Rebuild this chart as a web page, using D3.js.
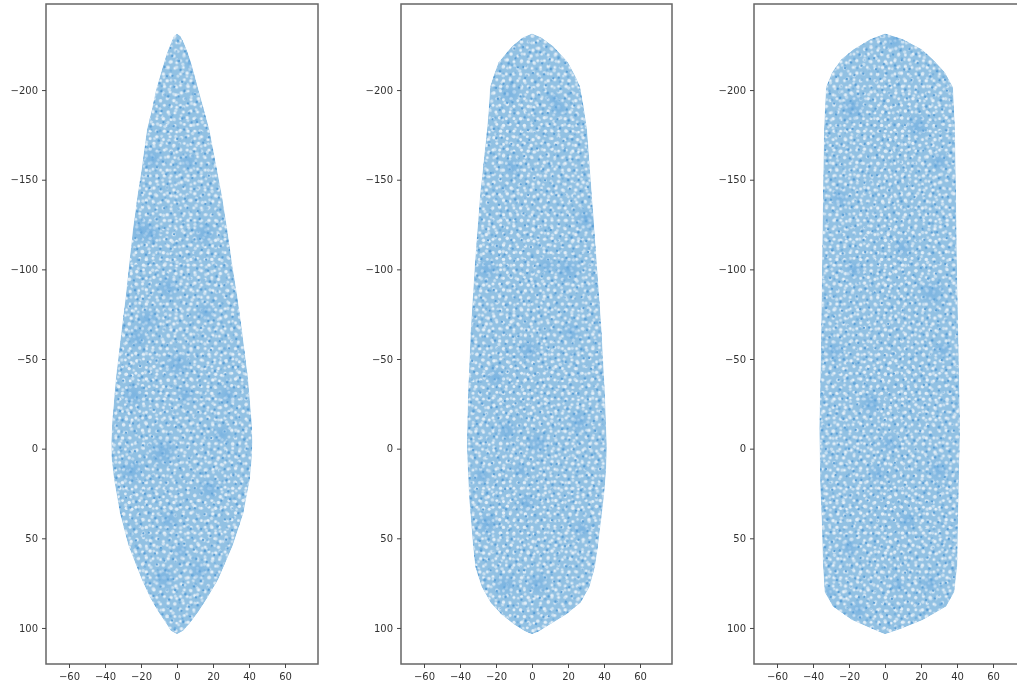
<!DOCTYPE html>
<html>
<head>
<meta charset="utf-8">
<script src="https://cdn.jsdelivr.net/npm/d3@7"></script>
<style>
  html, body { margin: 0; padding: 0; background: #fff; overflow: hidden; }
  text { font-family: "DejaVu Sans", sans-serif; }
</style>
</head>
<body>
<div id="chart"></div>
<script>
const xTicks = [-60, -40, -20, 0, 20, 40, 60];
const yTicks = [-200, -150, -100, -50, 0, 50, 100];

// outlines: [x, y] in axis units, clockwise from the top
const outlineLeft = [
  [0, -231.5], [2, -230], [4, -226], [6, -221], [9, -211], [12, -200], [15, -189], [18, -178],
  [22, -157], [25, -141], [28, -122], [30.5, -104], [33.5, -85], [36, -67], [39.5, -39],
  [41.5, -15], [41.9, -4], [41.5, 6], [40.5, 17], [36.9, 36], [31, 54], [22.9, 73], [17, 83],
  [11.9, 91], [7, 97.5], [3.5, 101.5], [0, 103.5], [-3.5, 101.5], [-6, 97.5], [-10.4, 91],
  [-15, 83], [-19.6, 73], [-27, 54], [-31.7, 36], [-35, 17], [-36.3, 6], [-36.5, -4], [-36, -15],
  [-34, -39], [-30.7, -67], [-28.5, -85], [-26.5, -104], [-24.5, -122], [-22, -141],
  [-19.5, -157], [-16.7, -178], [-14, -189], [-11.7, -200], [-8.5, -211], [-5.5, -221],
  [-3.5, -226], [-1.8, -230]
];
const outlineMiddle = [
  [0, -231.5], [5, -229.5], [11.7, -224.6], [20, -215.5], [24, -208], [26.7, -202], [28.8, -190],
  [30.6, -178], [33.3, -141], [36, -104], [38.6, -67], [40.6, -29], [41.6, -1], [41.2, 12],
  [40, 26.5], [36.7, 54], [35, 66], [32, 77], [27, 86], [19, 92.5], [10, 98], [4, 101.8],
  [0, 103.5], [-4, 101.8], [-10, 98], [-17, 92.5], [-23, 86], [-28, 77], [-31.5, 66], [-32.8, 54],
  [-35, 26.5], [-36.2, -1], [-35.6, -29], [-34, -67], [-31.7, -104], [-28.9, -141], [-25, -178],
  [-24, -190], [-23.3, -202], [-21, -209], [-18.6, -215.5], [-11, -224.6], [-5, -229.5]
];
const outlineRight = [
  [0, -231.5], [10, -228.4], [20.5, -222.8], [26.7, -217], [33.3, -210], [37.8, -201.6],
  [38.9, -178], [39.5, -140], [40, -100], [41, -50], [41.7, -11], [41, 20], [40.5, 45], [40.2, 65],
  [38.5, 80], [34, 88], [21, 95.5], [8.3, 100.7], [0, 103.5], [-6.7, 100.7], [-18.4, 95.5],
  [-29, 88], [-33.5, 80], [-34.5, 65], [-35, 45], [-36, 20], [-36.5, -11], [-35.7, -50], [-35, -100],
  [-34.5, -140], [-33.9, -178], [-32.8, -201.6], [-29.4, -210], [-24.4, -217], [-17.5, -222.8],
  [-8.3, -228.4]
];

// darker patches where the mesh bunches up: [x, y, radius]
const clumpsLeft = [
  [-14, -162, 6], [-16, -72, 6], [0, -47, 7], [-8, 2, 8], [5, -30, 5], [-7, 72, 6],
  [-20, -122, 7], [12, 68, 5], [-22, -62, 6], [8, -215, 4], [15, -120, 6], [-5, 40, 5],
  [-14, -120, 5], [16, -76, 5], [-5, -90, 6], [18, 22, 6], [-25, 12, 7], [28, -30, 5],
  [2, 57, 4], [-24, -30, 6], [25, -8, 5], [6, -160, 5]
];
const clumpsMiddle = [
  [3, -3, 6], [20, -100, 7], [-25, -100, 6], [-25, 42, 6], [22, -65, 5], [-12, -198, 5],
  [15, -190, 5], [-15, 76, 6], [3, 75, 6], [-2, -55, 6], [28, 45, 5], [-14, -10, 6],
  [8, -102, 5], [-11, -157, 5], [30, -128, 6], [-6, 12, 4], [-3, 30, 5], [-28, 15, 5],
  [26, -15, 6], [-20, -40, 5], [12, -195, 4]
];
const clumpsRight = [
  [26, -87, 7], [-18, -190, 7], [5, -227, 5], [2, -3, 5], [-15, 90, 5], [-31, 80, 3],
  [-17, -100, 5], [18, -180, 6], [-8, -25, 6], [30, 12, 6], [-28, -55, 5], [12, 40, 5],
  [-4, 14, 5], [-20, 55, 5], [30, -160, 5], [-25, -140, 5], [10, -112, 5], [32, -55, 5],
  [7, 76, 4], [25, 75, 5]
];

const width = 1017;
const height = 688;

const panels = [
  { id: 'left', left: 46, right: 318, zero: 177, outline: outlineLeft, clumps: clumpsLeft },
  { id: 'middle', left: 401, right: 672, zero: 532, outline: outlineMiddle, clumps: clumpsMiddle },
  { id: 'right', left: 754, right: 1026, zero: 885, outline: outlineRight, clumps: clumpsRight }
];

const plotTop = 4;
const plotBottom = 664;

const yScale = d3.scaleLinear().domain([-248, 120.1]).range([plotTop, plotBottom]);

const svg = d3.select('#chart')
  .append('svg')
  .attr('width', width)
  .attr('height', height)
  .style('display', 'block');

const defs = svg.append('defs');

// the picture is a soft upscale, so everything gets a slight blur
defs.append('filter').attr('id', 'soft')
  .attr('x', 0).attr('y', 0).attr('width', 1).attr('height', 1)
  .append('feGaussianBlur').attr('stdDeviation', 0.7);

// mesh texture, same tile laid at different angles so the repeat doesn't show
const holeTile = [
  [3, 4], [10, 2], [17, 5], [24, 3], [31, 6], [38, 3], [44, 6],
  [6, 10], [13, 11], [21, 10], [28, 12], [35, 10], [42, 12],
  [2, 17], [9, 17], [17, 16], [24, 18], [32, 17], [39, 18], [45, 19],
  [5, 24], [13, 23], [20, 24], [28, 25], [36, 24], [43, 25],
  [2, 31], [9, 30], [16, 31], [24, 31], [31, 31], [39, 32],
  [6, 37], [13, 38], [20, 37], [28, 38], [35, 38], [43, 38],
  [2, 43], [10, 44], [17, 44], [24, 44], [32, 44], [39, 44], [45, 45]
];
const nodeTile = [
  [4, 6], [14, 3], [25, 7], [33, 3], [8, 14], [19, 13], [29, 16],
  [2, 22], [13, 25], [24, 23], [34, 24], [7, 32], [18, 33], [29, 33]
];

function tilePattern(id, tile, size, transform, radius, fill) {
  defs.append('pattern').attr('id', id)
    .attr('patternUnits', 'userSpaceOnUse')
    .attr('width', size).attr('height', size)
    .attr('patternTransform', transform)
    .selectAll('circle')
    .data(tile)
    .join('circle')
    .attr('cx', (d) => d[0])
    .attr('cy', (d) => d[1])
    .attr('r', (d, i) => (i % 3 === 0 ? radius * 1.2 : radius))
    .attr('fill', fill);
}

tilePattern('holesA', holeTile, 47, 'scale(0.95)', 1.5, '#e6f0f8');
tilePattern('holesB', holeTile, 47, 'rotate(37) scale(1.05)', 1.35, '#dceaf5');
tilePattern('nodes', nodeTile, 37, 'rotate(17)', 1.2, '#5a9fd6');
tilePattern('nodesB', nodeTile, 37, 'rotate(-52) scale(1.1)', 1.05, '#66a8db');

const clumpGradient = defs.append('radialGradient').attr('id', 'clump');
clumpGradient.append('stop').attr('offset', '0%').attr('stop-color', '#6fade0').attr('stop-opacity', 0.65);
clumpGradient.append('stop').attr('offset', '100%').attr('stop-color', '#6fade0').attr('stop-opacity', 0);

const root = svg.append('g').attr('filter', 'url(#soft)');
root.append('rect').attr('width', width).attr('height', height).attr('fill', '#fff');

function drawPanel(p) {
  const xScale = d3.scaleLinear()
    .domain([(p.left - p.zero) / 1.8, (p.right - p.zero) / 1.8])
    .range([p.left, p.right]);

  const line = d3.line()
    .x((d) => xScale(d[0]))
    .y((d) => yScale(d[1]))
    .curve(d3.curveLinearClosed);

  const g = root.append('g');
  const shape = line(p.outline);

  defs.append('clipPath').attr('id', `shape-${p.id}`)
    .append('path').attr('d', shape);

  const mesh = g.append('g').attr('clip-path', `url(#shape-${p.id})`);

  mesh.append('path').attr('d', shape).attr('fill', '#92c1e3');
  mesh.append('path').attr('d', shape).attr('fill', 'url(#holesA)');
  mesh.append('path').attr('d', shape).attr('fill', 'url(#holesB)').attr('opacity', 0.75);
  mesh.append('path').attr('d', shape).attr('fill', 'url(#nodes)');
  mesh.append('path').attr('d', shape).attr('fill', 'url(#nodesB)').attr('opacity', 0.7);

  mesh.selectAll('circle')
    .data(p.clumps)
    .join('circle')
    .attr('cx', (d) => xScale(d[0]))
    .attr('cy', (d) => yScale(d[1]))
    .attr('r', (d) => (xScale(d[2]) - xScale(0)) * 1.2)
    .attr('fill', 'url(#clump)');

  // frame
  g.append('rect')
    .attr('x', p.left).attr('y', plotTop)
    .attr('width', p.right - p.left).attr('height', plotBottom - plotTop)
    .attr('fill', 'none').attr('stroke', '#666').attr('stroke-width', 1.5);

  const xAxis = d3.axisBottom(xScale).tickValues(xTicks).tickSize(4).tickPadding(5)
    .tickFormat((d) => String(d).replace('-', '\u2212'));
  const yAxis = d3.axisLeft(yScale).tickValues(yTicks).tickSize(4).tickPadding(4)
    .tickFormat((d) => String(d).replace('-', '\u2212'));

  const xg = g.append('g').attr('transform', `translate(0, ${plotBottom})`).call(xAxis);
  const yg = g.append('g').attr('transform', `translate(${p.left}, 0)`).call(yAxis);

  [xg, yg].forEach((a) => {
    a.select('.domain').remove();
    a.selectAll('line').attr('stroke', '#444');
    a.selectAll('text').attr('fill', '#333').style('font-size', '10px');
  });
}

panels.forEach(drawPanel);
</script>
</body>
</html>
